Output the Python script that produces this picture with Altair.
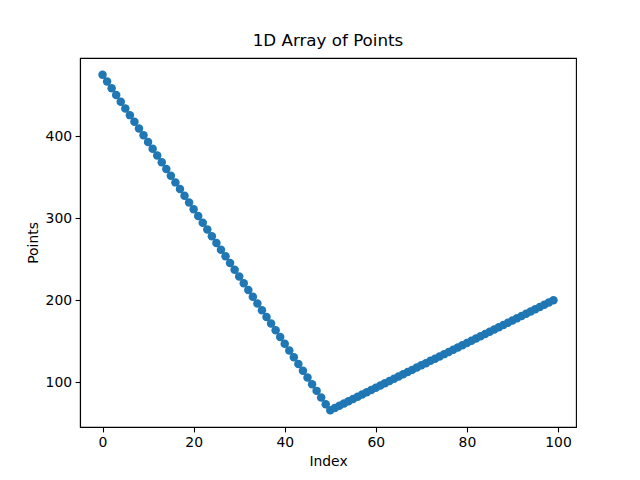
import altair as alt
import pandas as pd

# Values
index = list(range(100))
points = [
    475.0, 466.8, 458.6, 450.4, 442.2, 434.0, 425.8, 417.6, 409.4, 401.2,
    393.0, 384.8, 376.6, 368.4, 360.2, 352.0, 343.8, 335.6, 327.4, 319.2,
    311.0, 302.8, 294.6, 286.4, 278.2, 270.0, 261.8, 253.6, 245.4, 237.2,
    229.0, 220.8, 212.6, 204.4, 196.2, 188.0, 179.8, 171.6, 163.4, 155.2,
    147.0, 138.8, 130.6, 122.4, 114.2, 106.0, 97.8, 89.6, 81.4, 73.2,
    66.0, 68.7, 71.5, 74.2, 76.9, 79.7, 82.4, 85.1, 87.9, 90.6,
    93.3, 96.1, 98.8, 101.6, 104.3, 107.0, 109.8, 112.5, 115.2, 118.0,
    120.7, 123.4, 126.2, 128.9, 131.6, 134.4, 137.1, 139.8, 142.6, 145.3,
    148.0, 150.8, 153.5, 156.2, 159.0, 161.7, 164.4, 167.2, 169.9, 172.7,
    175.4, 178.1, 180.9, 183.6, 186.3, 189.1, 191.8, 194.5, 197.3, 200.0,
]
x_ticks = [0, 20, 40, 60, 80, 100]
y_ticks = [100, 200, 300, 400]

df = pd.DataFrame({"Index": index, "Points": points})

FONT = "DejaVu Sans"
BLUE = "#1f77b4"

x_enc = alt.X(
    "Index:Q",
    scale=alt.Scale(domain=[-4.95, 103.95], nice=False, zero=False),
    axis=alt.Axis(values=x_ticks, title="Index", format="d"),
)
y_enc = alt.Y(
    "Points:Q",
    scale=alt.Scale(domain=[45.55, 495.45], nice=False, zero=False),
    axis=alt.Axis(values=y_ticks, title="Points", format="d"),
)

base = alt.Chart(df)
line = base.mark_line(color=BLUE, strokeWidth=1.5).encode(x=x_enc, y=y_enc)
pts = base.mark_circle(color=BLUE, size=72, opacity=1).encode(x=x_enc, y=y_enc)

chart = (
    alt.layer(line, pts)
    .properties(
        width=496,
        height=369,
        title=alt.TitleParams(
            "1D Array of Points",
            fontSize=16.7,
            fontWeight="normal",
            font=FONT,
            color="black",
            offset=8,
        ),
        autosize=alt.AutoSizeParams(type="none"),
        padding={"left": 72, "top": 50, "right": 56, "bottom": 45},
    )
    .configure_view(stroke="black", strokeWidth=1.1)
    .configure_axis(
        grid=False,
        domainColor="black",
        domainWidth=1.1,
        tickColor="black",
        tickWidth=1.1,
        tickSize=4.9,
        labelPadding=3.5,
        labelFont=FONT,
        labelFontSize=13.9,
        labelColor="black",
        titleFont=FONT,
        titleFontSize=13.9,
        titleFontWeight="normal",
        titleColor="black",
        titlePadding=5,
    )
)

chart.save("out.html", embed_options={"renderer": "svg", "actions": False})
